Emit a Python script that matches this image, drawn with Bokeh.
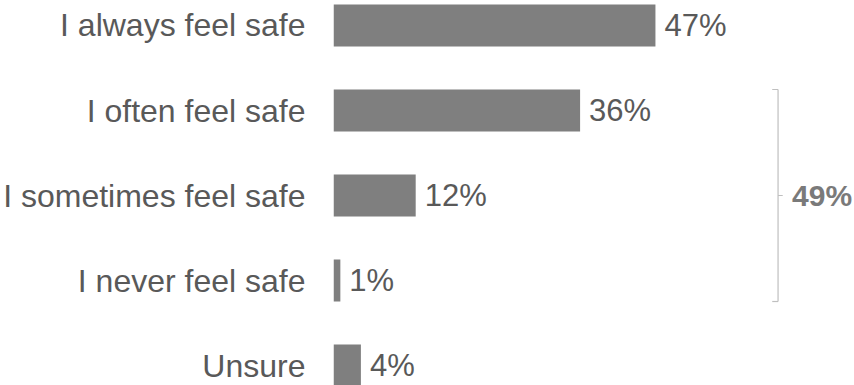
from bokeh.plotting import figure
from bokeh.models import Range1d, FixedTicker, ColumnDataSource
from bokeh.core.properties import value
from bokeh.embed import file_html
from bokeh.resources import INLINE

categories = ["I always feel safe", "I often feel safe", "I sometimes feel safe",
              "I never feel safe", "Unsure"]
values = [47, 36, 12, 1, 4]
group_members = ["I often feel safe", "I sometimes feel safe", "I never feel safe"]

n = len(categories)
ypos = [n - 1 - i for i in range(n)]
labels = [f"{v}%" for v in values]

BAR_H = 0.494
FONT = "Liberation Sans"

src = ColumnDataSource(dict(y=ypos, v=values, lab=labels, cat=categories))

p = figure(width=854, height=385, output_backend="svg", toolbar_location=None,
           x_range=Range1d(0, 76.06), y_range=Range1d(-0.235, n - 1 + 0.294),
           x_axis_location=None, min_border_left=333, min_border_right=0,
           min_border_top=0, min_border_bottom=0)
p.outline_line_color = None
p.xgrid.visible = False
p.ygrid.visible = False

p.hbar(y="y", left=0, right="v", height=BAR_H, source=src,
       fill_color="#7f7f7f", line_color=None)

p.text(x="v", y="y", text="lab", source=src, x_offset=9,
       text_baseline="middle", text_align="left",
       text_font=value(FONT), text_font_size="31px", text_color="#595959")

ax = p.yaxis[0]
ax.ticker = FixedTicker(ticks=ypos)
ax.major_label_overrides = {y: c for y, c in zip(ypos, categories)}
ax.axis_line_color = None
ax.major_tick_line_color = None
ax.minor_tick_line_color = None
ax.major_tick_in = 0
ax.major_tick_out = 0
ax.major_label_standoff = 28
ax.major_label_text_font = FONT
ax.major_label_text_font_size = "32px"
ax.major_label_text_color = "#595959"

# bracket for grouped categories
gy = [ypos[categories.index(c)] for c in group_members]
top = max(gy) + BAR_H / 2
bot = min(gy) - BAR_H / 2
mid = (top + bot) / 2
BX = 64.9
TICK = 0.85
bc = "#bfbfbf"
p.segment(x0=[BX, BX - TICK, BX - TICK, BX], y0=[top, top, bot, mid],
          x1=[BX, BX, BX, BX + TICK * 0.8], y1=[bot, top, bot, mid],
          line_color=bc, line_width=1.2)
group_total = sum(values[categories.index(c)] for c in group_members)
p.text(x=[BX], y=[mid], text=[f"{group_total}%"], x_offset=14,
       text_baseline="middle", text_align="left", text_font=value(FONT),
       text_font_size="30px", text_font_style="bold", text_color="#7a7a7a")

open("out.html", "w").write(file_html(p, INLINE))
